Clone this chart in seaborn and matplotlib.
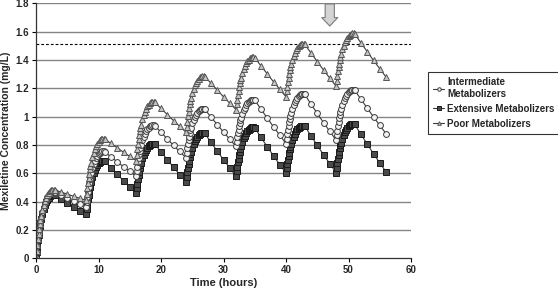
#!/usr/bin/env python3
"""
Mexiletine concentration-time profiles for the three metabolizer groups
"""

import pandas as pd
import matplotlib
matplotlib.use('Agg')
import matplotlib.pyplot as plt
import seaborn as sns

# --- data ---
DOSE_TIMES = [0, 8, 16, 24, 32, 40, 48]
OFFSETS = [0, 0.1, 0.2, 0.3, 0.4, 0.5, 0.6, 0.7, 0.8, 1.0, 1.2, 1.4, 1.6, 1.8,
           2.0, 2.2, 2.4, 2.6, 2.8, 3.0, 4, 5, 6, 7]
END_TIME = 56

EM_CONC = [
    [0, .045, .086, .126, .162, .194, .225, .252, .275, .315, .347, .374, .396, .414,
     .428, .439, .446, .450, .449, .446, .419, .391, .363, .337],
    [.31, .348, .382, .416, .447, .473, .500, .523, .542, .576, .603, .625, .644, .660,
     .671, .681, .686, .690, .689, .686, .639, .593, .547, .504],
    [.46, .495, .527, .558, .586, .611, .635, .656, .674, .705, .730, .751, .768, .782,
     .793, .801, .807, .810, .809, .807, .751, .697, .643, .591],
    [.54, .575, .606, .637, .664, .688, .713, .733, .750, .782, .806, .826, .844, .857,
     .868, .876, .882, .885, .884, .882, .818, .757, .696, .638],
    [.58, .615, .646, .677, .704, .728, .753, .773, .790, .822, .846, .866, .884, .897,
     .908, .916, .922, .925, .924, .922, .853, .788, .723, .662],
    [.60, .634, .664, .694, .721, .745, .769, .789, .806, .836, .859, .880, .897, .910,
     .920, .929, .934, .937, .936, .934, .864, .798, .731, .668],
    [.605, .639, .670, .701, .728, .752, .777, .797, .814, .845, .869, .890, .907, .921,
     .931, .939, .945, .948, .947, .945, .874, .806, .738, .674],
]
EM_END = .61

IM_CONC = [
    [0, .047, .089, .132, .169, .202, .235, .263, .287, .329, .362, .390, .414, .432,
     .447, .458, .465, .470, .469, .465, .446, .424, .402, .381],
    [.36, .400, .435, .471, .502, .530, .558, .581, .601, .637, .664, .688, .708, .723,
     .735, .745, .751, .755, .754, .751, .716, .681, .646, .613],
    [.58, .616, .648, .681, .710, .735, .760, .782, .800, .832, .857, .879, .897, .911,
     .922, .931, .936, .940, .939, .936, .889, .843, .797, .754],
    [.71, .745, .776, .807, .834, .858, .883, .903, .920, .952, .976, .996, 1.014, 1.027,
     1.038, 1.046, 1.052, 1.055, 1.054, 1.052, .997, .944, .891, .840],
    [.79, .823, .853, .882, .909, .932, .955, .975, .991, 1.021, 1.044, 1.064, 1.080, 1.094,
     1.104, 1.112, 1.117, 1.120, 1.119, 1.117, 1.052, .990, .928, .869],
    [.81, .845, .877, .908, .936, .961, .985, 1.006, 1.024, 1.055, 1.080, 1.101, 1.118, 1.132,
     1.143, 1.151, 1.157, 1.160, 1.159, 1.157, 1.088, 1.023, .958, .897],
    [.835, .871, .902, .934, .963, .988, 1.013, 1.034, 1.052, 1.084, 1.108, 1.130, 1.147, 1.162,
     1.172, 1.181, 1.186, 1.190, 1.189, 1.186, 1.122, 1.060, .998, .939],
]
IM_END = .88

PM_CONC = [
    [0, .049, .092, .136, .175, .209, .243, .272, .296, .340, .373, .403, .427, .446,
     .461, .473, .480, .485, .484, .480, .468, .453, .438, .424],
    [.41, .454, .493, .532, .567, .597, .628, .654, .675, .715, .745, .771, .793, .810,
     .823, .834, .841, .845, .844, .841, .811, .780, .749, .719],
    [.69, .732, .769, .806, .839, .868, .898, .922, .943, .981, 1.010, 1.034, 1.055, 1.072,
     1.084, 1.095, 1.101, 1.105, 1.104, 1.101, 1.058, 1.015, .972, .931],
    [.89, .930, .965, 1.001, 1.033, 1.061, 1.089, 1.112, 1.132, 1.168, 1.196, 1.220, 1.239, 1.255,
     1.267, 1.277, 1.283, 1.287, 1.286, 1.283, 1.235, 1.187, 1.140, 1.095],
    [1.05, 1.087, 1.120, 1.154, 1.183, 1.209, 1.235, 1.257, 1.276, 1.309, 1.335, 1.357, 1.376, 1.390,
     1.402, 1.411, 1.416, 1.420, 1.419, 1.416, 1.358, 1.302, 1.246, 1.193],
    [1.14, 1.178, 1.211, 1.245, 1.275, 1.301, 1.328, 1.350, 1.369, 1.403, 1.429, 1.451, 1.470, 1.485,
     1.496, 1.506, 1.511, 1.515, 1.514, 1.511, 1.449, 1.389, 1.329, 1.272],
    [1.215, 1.252, 1.286, 1.319, 1.349, 1.375, 1.402, 1.424, 1.443, 1.476, 1.502, 1.525, 1.543, 1.558,
     1.569, 1.579, 1.584, 1.588, 1.587, 1.584, 1.520, 1.459, 1.397, 1.339],
]
PM_END = 1.28

TOXIC_LEVEL = 1.51
ARROW_TIME = 47

X_TICKS = [0, 10, 20, 30, 40, 50, 60]
Y_TICKS = [0, 0.2, 0.4, 0.6, 0.8, 1.0, 1.2, 1.4, 1.6, 1.8]
Y_TICK_LABELS = ['0', '0.2', '0.4', '0.6', '0.8', '1', '1.2', '1.4', '1.6', '1.8']

GROUPS = ['Intermediate\nMetabolizers', 'Extensive Metabolizers', 'Poor Metabolizers']


def build_frame():
    times = [d + o for d in DOSE_TIMES for o in OFFSETS] + [END_TIME]
    rows = []
    for name, cycles, last in zip(GROUPS, [IM_CONC, EM_CONC, PM_CONC], [IM_END, EM_END, PM_END]):
        vals = [v for c in cycles for v in c] + [last]
        for t, v in zip(times, vals):
            rows.append({'time': t, 'conc': v, 'group': name})
    return pd.DataFrame(rows)


def plot():
    df = build_frame()
    sns.set_style('white')
    plt.rcParams['font.family'] = ['Liberation Sans', 'DejaVu Sans']
    plt.rcParams['font.weight'] = 'bold'

    fig = plt.figure(figsize=(5.58, 2.91), dpi=100)
    ax = fig.add_axes([36 / 558, 1 - 258.3 / 291, 375 / 558, 255 / 291])

    for y in Y_TICKS[1:]:
        ax.axhline(y, color='#858585', lw=1.0, zorder=0)
    ax.plot([0, 60], [TOXIC_LEVEL, TOXIC_LEVEL], color='black', lw=0.8,
            ls=(0, (2.5, 1.8)), zorder=1)

    styles = {
        GROUPS[0]: dict(marker='o', markerfacecolor='#f2f2f2', markeredgecolor='#3a3a3a', markersize=4.2),
        GROUPS[1]: dict(marker='s', markerfacecolor='#4a4a4a', markeredgecolor='#1a1a1a', markersize=4),
        GROUPS[2]: dict(marker='^', markerfacecolor='#c4c4c4', markeredgecolor='#555555', markersize=4.4),
    }
    for name in [GROUPS[1], GROUPS[0], GROUPS[2]]:
        sub = df[df['group'] == name]
        sns.lineplot(data=sub, x='time', y='conc', estimator=None, sort=False, ax=ax,
                     color='#3a3a3a', lw=0.8, markeredgewidth=0.7, label=name,
                     **styles[name])

    ax.annotate('', xy=(ARROW_TIME, 1.62), xytext=(ARROW_TIME, 1.815),
                arrowprops=dict(arrowstyle='simple,head_width=1.05,head_length=0.55,tail_width=0.6',
                                fc='#d4d4d4', ec='#7a7a7a', lw=0.8, mutation_scale=11),
                annotation_clip=False)

    ax.set_xlim(0, 60)
    ax.set_ylim(0, 1.8)
    ax.set_xticks(X_TICKS)
    ax.set_yticks(Y_TICKS)
    ax.set_yticklabels(Y_TICK_LABELS)
    ax.tick_params(axis='both', labelsize=7, length=3, width=0.8, direction='out',
                   color='black', pad=2)
    ax.tick_params(axis='x', bottom=True)
    ax.tick_params(axis='y', left=True)
    for lab in ax.get_xticklabels() + ax.get_yticklabels():
        lab.set_fontweight('bold')
    for side in ['top', 'right']:
        ax.spines[side].set_visible(False)
    for side in ['left', 'bottom']:
        ax.spines[side].set_color('#333333')
        ax.spines[side].set_linewidth(0.9)

    ax.set_xlabel('Time (hours)', fontsize=8, fontweight='bold', labelpad=2)
    ax.set_ylabel('Mexiletine Concentration (mg/L)', fontsize=7.5, fontweight='bold', labelpad=3)

    handles, labels = ax.get_legend_handles_labels()
    order = [labels.index(g) for g in GROUPS]
    ax.legend([handles[i] for i in order], [labels[i] for i in order],
              loc='upper left', bbox_to_anchor=(428 / 558, 1 - 72 / 291),
              bbox_transform=fig.transFigure, frameon=True, fancybox=False,
              edgecolor='black', handlelength=1.1, handletextpad=0.3, borderpad=0.55,
              labelspacing=0.5, borderaxespad=0, markerscale=0.6,
              prop={'weight': 'bold', 'size': 7})
    ax.get_legend().get_frame().set_linewidth(0.8)

    fig.savefig('out.png', dpi=100)
    plt.close(fig)


if __name__ == '__main__':
    plot()
